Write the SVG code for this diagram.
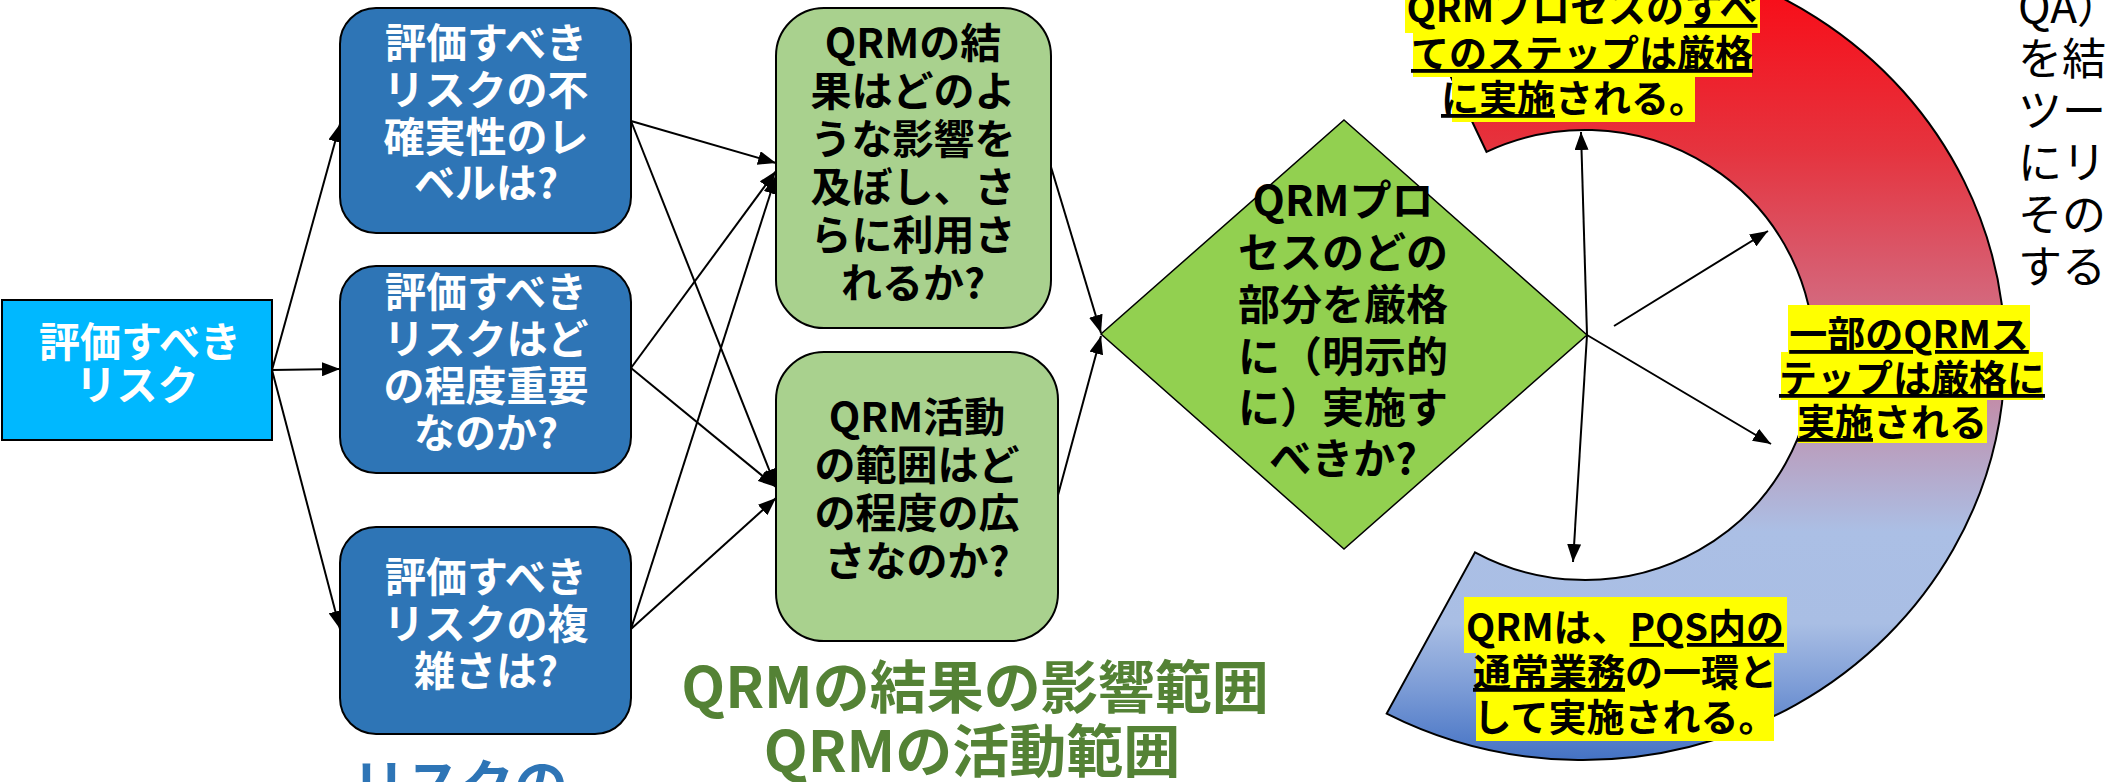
<svg xmlns="http://www.w3.org/2000/svg" width="2105" height="782" viewBox="0 0 2105 782">
<defs>
<marker id="ah" viewBox="0 0 10 10" refX="10" refY="5" markerWidth="9" markerHeight="7" markerUnits="strokeWidth" orient="auto" preserveAspectRatio="none"><path d="M0,0 L10,5 L0,10 z" fill="#000"/></marker>
<linearGradient id="arcg" gradientUnits="userSpaceOnUse" x1="0" y1="0" x2="0" y2="760">
<stop offset="0" stop-color="#F70F1A"/>
<stop offset="0.2" stop-color="#E5343F"/>
<stop offset="0.4" stop-color="#D4687D"/>
<stop offset="0.59" stop-color="#B9A0C0"/>
<stop offset="0.7" stop-color="#ABBFE5"/>
<stop offset="0.82" stop-color="#A9BEE4"/>
<stop offset="0.9" stop-color="#7F9ED7"/>
<stop offset="1" stop-color="#4472C4"/>
</linearGradient>
</defs>
<style>
text{font-family:"Noto Sans CJK JP","Noto Sans",sans-serif;}
.b{font-weight:bold;text-anchor:middle;}
.w{fill:#fff;font-size:41px;}
.k{fill:#000;font-size:41px;}
.lab{fill:#000;font-size:38px;font-weight:bold;text-anchor:middle;}
.u{text-decoration:underline;}
.hl{fill:#FFFF00;}
.cn line{stroke:#000;stroke-width:2;marker-end:url(#ah);}
</style>

<g id="arc">
<path d="M1408,-13.5 A422,405 0 1 1 1386.7,713.6 L1475,552.3 A229,225 0 1 0 1486.5,151.8 Z" fill="url(#arcg)" stroke="#000" stroke-width="2"/>
</g>

<g id="connectors" class="cn">
<line x1="272" y1="370" x2="340" y2="124"/>
<line x1="272" y1="370" x2="340" y2="369"/>
<line x1="272" y1="370" x2="340" y2="629"/>
<line x1="631" y1="121" x2="776" y2="163"/>
<line x1="631" y1="121" x2="776" y2="487"/>
<line x1="631" y1="368" x2="776" y2="171"/>
<line x1="631" y1="368" x2="776" y2="487"/>
<line x1="631" y1="629" x2="776" y2="176"/>
<line x1="631" y1="629" x2="776" y2="498"/>
<line x1="1051" y1="167" x2="1101" y2="333"/>
<line x1="1058" y1="495" x2="1101" y2="336"/>
<line x1="1587" y1="335" x2="1581" y2="132"/>
<line x1="1614" y1="326" x2="1768" y2="231"/>
<line x1="1587" y1="335" x2="1771" y2="444"/>
<line x1="1587" y1="335" x2="1573" y2="562"/>
</g>

<g id="n-risk">
<rect x="2" y="300" width="270" height="140" fill="#00B8FF" stroke="#000" stroke-width="2"/>
<text class="b w" x="140"><tspan x="140" y="357">評価すべき</tspan><tspan x="137" y="400">リスク</tspan></text>
</g>

<g id="n-uncertainty">
<rect x="340" y="8" width="291" height="225" rx="36" fill="#2E75B6" stroke="#000" stroke-width="2"/>
<text class="b w"><tspan x="486" y="58">評価すべき</tspan><tspan x="486" y="105">リスクの不</tspan><tspan x="486" y="152">確実性のレ</tspan><tspan x="486" y="198">ベルは?</tspan></text>
</g>

<g id="n-importance">
<rect x="340" y="266" width="291" height="207" rx="36" fill="#2E75B6" stroke="#000" stroke-width="2"/>
<text class="b w"><tspan x="486" y="307">評価すべき</tspan><tspan x="486" y="354">リスクはど</tspan><tspan x="486" y="401">の程度重要</tspan><tspan x="486" y="448">なのか?</tspan></text>
</g>

<g id="n-complexity">
<rect x="340" y="527" width="291" height="207" rx="36" fill="#2E75B6" stroke="#000" stroke-width="2"/>
<text class="b w"><tspan x="486" y="592">評価すべき</tspan><tspan x="486" y="639">リスクの複</tspan><tspan x="486" y="686">雑さは?</tspan></text>
</g>

<g id="n-impact">
<rect x="776" y="8" width="275" height="320" rx="48" fill="#A9D18E" stroke="#000" stroke-width="2"/>
<text class="b k"><tspan x="913" y="58">QRMの結</tspan><tspan x="913" y="106">果はどのよ</tspan><tspan x="913" y="154">うな影響を</tspan><tspan x="913" y="202">及ぼし、さ</tspan><tspan x="913" y="250">らに利用さ</tspan><tspan x="913" y="298">れるか?</tspan></text>
</g>

<g id="n-scope">
<rect x="776" y="352" width="282" height="289" rx="48" fill="#A9D18E" stroke="#000" stroke-width="2"/>
<text class="b k"><tspan x="917" y="432">QRM活動</tspan><tspan x="917" y="480">の範囲はど</tspan><tspan x="917" y="528">の程度の広</tspan><tspan x="917" y="576">さなのか?</tspan></text>
</g>

<g id="n-decision">
<polygon points="1344,120 1587,335 1344,549 1101,334" fill="#92D050" stroke="#000" stroke-width="1.5"/>
<text class="b k" style="font-size:42px"><tspan x="1343" y="216">QRMプロ</tspan><tspan x="1343" y="268">セスのどの</tspan><tspan x="1343" y="320">部分を厳格</tspan><tspan x="1343" y="372">に（明示的</tspan><tspan x="1343" y="423">に）実施す</tspan><tspan x="1343" y="474">べきか?</tspan></text>
</g>

<g id="caption-green">
<text class="b" style="fill:#548235;font-size:57px"><tspan x="975" y="708">QRMの結果の影響範囲</tspan><tspan x="972" y="772">QRMの活動範囲</tspan></text>
</g>

<g id="caption-blue">
<text class="b" style="fill:#2E75B6;font-size:54px" x="460" y="805">リスクの</text>
</g>

<g id="label-all">
<rect class="hl" x="1405" y="-5" width="355" height="38"/>
<rect class="hl" x="1413" y="33" width="339" height="44"/>
<rect class="hl" x="1452" y="77" width="243" height="45"/>
<text class="lab"><tspan x="1582" y="22">QRMプロセスの<tspan class="u">すべ</tspan></tspan><tspan x="1582" y="67" class="u">てのステップは厳格</tspan><tspan x="1574" y="112"><tspan class="u">に実施</tspan>される。</tspan></text>
</g>

<g id="label-some">
<rect class="hl" x="1788" y="305" width="242" height="47"/>
<rect class="hl" x="1781" y="352" width="262" height="48"/>
<rect class="hl" x="1798" y="400" width="189" height="43"/>
<text class="lab"><tspan x="1909" y="348" class="u">一部のQRMス</tspan><tspan x="1912" y="392" class="u">テップは厳格に</tspan><tspan x="1892" y="436"><tspan class="u">実施</tspan>される</tspan></text>
</g>

<g id="label-routine">
<rect class="hl" x="1464" y="597" width="323" height="56"/>
<rect class="hl" x="1476" y="653" width="298" height="88"/>
<text class="lab"><tspan x="1625" y="641">QRMは、<tspan class="u">PQS内の</tspan></tspan><tspan x="1625" y="686"><tspan class="u">通常業務</tspan>の一環と</tspan><tspan x="1625" y="731">して実施される。</tspan></text>
</g>

<g id="side-text">
<text style="fill:#000;font-size:44px"><tspan x="2018" y="23">QA）</tspan><tspan x="2018" y="75">を結</tspan><tspan x="2018" y="127">ツー</tspan><tspan x="2018" y="179">にリ</tspan><tspan x="2018" y="231">その</tspan><tspan x="2018" y="283">する。</tspan></text>
</g>
</svg>
